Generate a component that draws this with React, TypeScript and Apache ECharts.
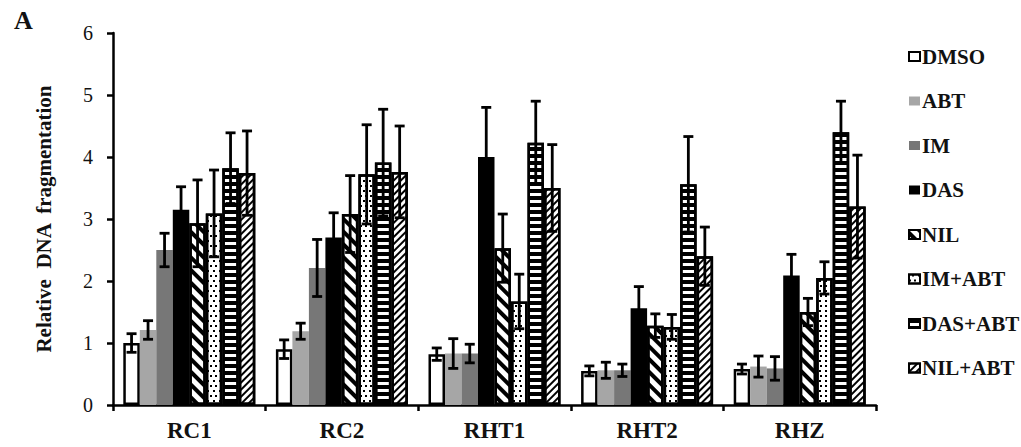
import React, { useEffect, useRef } from "react";
import * as echarts from "echarts";

const categories = ["RC1", "RC2", "RHT1", "RHT2", "RHZ"];
const seriesNames = ["DMSO", "ABT", "IM", "DAS", "NIL", "IM+ABT", "DAS+ABT", "NIL+ABT"];

const dmso = [1.0, 0.9, 0.82, 0.55, 0.58];
const dmsoErr = [0.15, 0.15, 0.1, 0.08, 0.08];
const abt = [1.21, 1.19, 0.83, 0.56, 0.62];
const abtErr = [0.15, 0.13, 0.24, 0.13, 0.17];
const im = [2.5, 2.21, 0.83, 0.56, 0.59];
const imErr = [0.27, 0.46, 0.15, 0.1, 0.19];
const das = [3.15, 2.7, 4.0, 1.56, 2.09];
const dasErr = [0.37, 0.4, 0.8, 0.35, 0.34];
const nil = [2.93, 3.08, 2.53, 1.28, 1.5];
const nilErr = [0.7, 0.62, 0.55, 0.19, 0.22];
const imAbt = [3.09, 3.72, 1.67, 1.26, 2.05];
const imAbtErr = [0.7, 0.8, 0.44, 0.2, 0.26];
const dasAbt = [3.82, 3.91, 4.23, 3.56, 4.4];
const dasAbtErr = [0.57, 0.86, 0.67, 0.77, 0.5];
const nilAbt = [3.74, 3.76, 3.5, 2.4, 3.2];
const nilAbtErr = [0.68, 0.74, 0.7, 0.47, 0.83];

const yTicks = [0, 1, 2, 3, 4, 5, 6];

const values = [dmso, abt, im, das, nil, imAbt, dasAbt, nilAbt];
const errors = [dmsoErr, abtErr, imErr, dasErr, nilErr, imAbtErr, dasAbtErr, nilAbtErr];

const SERIF = "'Liberation Serif', 'Times New Roman', serif";
const CAT_GAP = 0.135;

const styles: any[] = [
  { color: "#ffffff", borderColor: "#000", borderWidth: 2.5 },
  { color: "#a6a6a6", borderWidth: 0 },
  { color: "#777777", borderWidth: 0 },
  { color: "#000000", borderWidth: 0 },
  {
    color: "#ffffff", borderColor: "#000", borderWidth: 2.5,
    decal: { symbol: "rect", symbolSize: 1, color: "#000", dashArrayX: [1, 0], dashArrayY: [3.5, 4.5], rotation: Math.PI / 4 },
  },
  {
    color: "#ffffff", borderColor: "#000", borderWidth: 2.5,
    decal: { symbol: "rect", symbolSize: 1, color: "#000", dashArrayX: [[1.3, 3], [0, 2.15, 1.3, 0.85]], dashArrayY: [1.3, 2.5], rotation: 0 },
  },
  {
    color: "#ffffff", borderColor: "#000", borderWidth: 2.5,
    decal: { symbol: "rect", symbolSize: 1, color: "#000", dashArrayX: [1, 0], dashArrayY: [4, 3], rotation: 0 },
  },
  {
    color: "#ffffff", borderColor: "#000", borderWidth: 2.5,
    decal: { symbol: "rect", symbolSize: 1, color: "#000", dashArrayX: [1, 0], dashArrayY: [2, 2.2], rotation: -Math.PI / 4 },
  },
];

export default function App() {
  const ref = useRef<HTMLDivElement>(null);
  useEffect(() => {
    if (!ref.current) return;
    const chart = echarts.init(ref.current, null, { renderer: "svg" });

    const barSeries = seriesNames.map((name, i) => ({
      name,
      type: "bar",
      data: values[i],
      barGap: "0%",
      barCategoryGap: CAT_GAP * 100 + "%",
      itemStyle: styles[i],
      z: 2,
    }));

    const errData: number[][] = [];
    values.forEach((arr, si) => {
      arr.forEach((v, ci) => {
        errData.push([ci, v, errors[si][ci], si]);
      });
    });

    const errSeries = {
      type: "custom",
      name: "err",
      z: 10,
      silent: true,
      data: errData,
      encode: { x: 0, y: 1 },
      renderItem: (params: any, api: any) => {
        const ci = api.value(0);
        const v = api.value(1);
        const e = api.value(2);
        const si = api.value(3);
        const center = api.coord([ci, v]);
        const band = api.size([1, 0])[0];
        const used = band * (1 - CAT_GAP);
        const bw = used / seriesNames.length;
        const x = center[0] - used / 2 + bw * (si + 0.5);
        const top = api.coord([ci, v + e])[1];
        const bot = api.coord([ci, v - e])[1];
        const cap = 5;
        const st = { stroke: "#000", lineWidth: 2.8 };
        return {
          type: "group",
          children: [
            { type: "line", shape: { x1: x, y1: top, x2: x, y2: bot }, style: st },
            { type: "line", shape: { x1: x - cap, y1: top, x2: x + cap, y2: top }, style: st },
            { type: "line", shape: { x1: x - cap, y1: bot, x2: x + cap, y2: bot }, style: st },
          ],
        };
      },
    };

    chart.setOption({
      animation: false,
      backgroundColor: "#ffffff",
      grid: { left: 113, right: 145, top: 33, bottom: 42, containLabel: false },
      legend: {
        data: seriesNames,
        orient: "vertical",
        left: 903,
        top: 41,
        itemWidth: 11,
        itemHeight: 9,
        itemGap: 23.5,
        icon: "rect",
        textStyle: { fontFamily: SERIF, fontWeight: "bold", fontSize: 21, color: "#111", lineHeight: 21, padding: [0, 0, 0, -3] },
      },
      xAxis: {
        type: "category",
        data: categories,
        axisLine: { lineStyle: { color: "#000", width: 2.5 } },
        axisTick: { show: true, alignWithLabel: false, length: 6, lineStyle: { color: "#000", width: 2.5 } },
        axisLabel: { fontFamily: SERIF, fontWeight: "bold", fontSize: 23, color: "#111", margin: 14 },
      },
      yAxis: {
        type: "value",
        min: yTicks[0],
        max: yTicks[yTicks.length - 1],
        interval: 1,
        splitLine: { show: false },
        axisLine: { show: true, lineStyle: { color: "#000", width: 2.5 } },
        axisTick: { show: true, length: 6, lineStyle: { color: "#000", width: 2.5 } },
        axisLabel: { fontFamily: SERIF, fontSize: 20, color: "#111", margin: 20 },
        name: "Relative  DNA  fragmentation",
        nameLocation: "middle",
        nameGap: 59,
        nameTextStyle: { fontFamily: SERIF, fontWeight: "bold", fontSize: 21, color: "#111" },
      },
      graphic: [
        { type: "text", left: 14, top: 7, style: { text: "A", font: "bold 26px " + SERIF, fill: "#111" } },
      ],
      series: [...barSeries, errSeries],
    });
    return () => chart.dispose();
  }, []);
  return <div ref={ref} style={{ position: "fixed", left: 0, top: 0, width: 1021, height: 447 }} />;
}
